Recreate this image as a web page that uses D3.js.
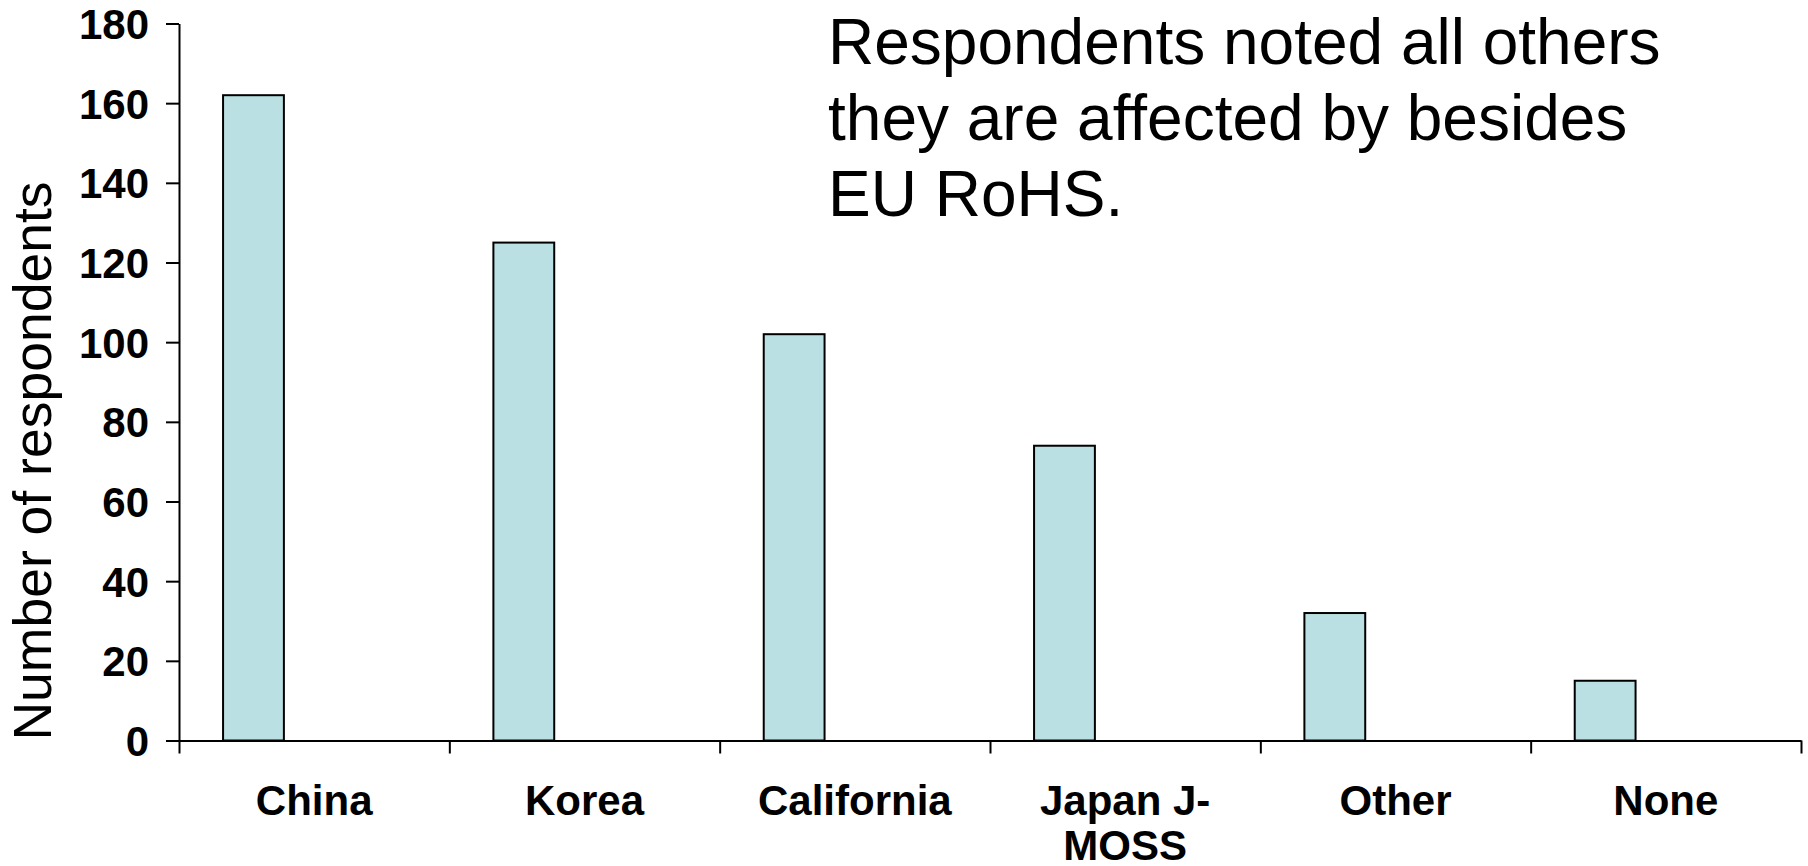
<!DOCTYPE html>
<html>
<head>
<meta charset="utf-8">
<script src="https://cdn.jsdelivr.net/npm/d3@7"></script>
<style>
  html, body { margin: 0; padding: 0; background: #fff; }
  svg { display: block; }
  text { font-family: "Liberation Sans", Arial, sans-serif; fill: #000; }
</style>
</head>
<body>
<script>
// Survey: other regulations respondents are affected by (besides EU RoHS)
const categories = ["China", "Korea", "California", "Japan J-MOSS", "Other", "None"];
const categoryLines = [["China"], ["Korea"], ["California"], ["Japan J-", "MOSS"], ["Other"], ["None"]];
const respondents = [162, 125, 102, 74, 32, 15];
const yTicks = [0, 20, 40, 60, 80, 100, 120, 140, 160, 180];
const noteLines = ["Respondents noted all others", "they are affected by besides", "EU RoHS."];

const W = 1808, H = 866;
const plot = { left: 179, right: 1801, top: 23.5, bottom: 740.5 };

const svg = d3.select("body").append("svg").attr("width", W).attr("height", H);

const x = d3.scaleBand().domain(categories).range([plot.left, plot.right]).padding(0);
const y = d3.scaleLinear().domain([0, 180]).range([plot.bottom, plot.top]);
const bw = x.bandwidth();

// Bars sit in the left part of each category slot
svg.append("g").selectAll("rect")
  .data(categories)
  .join("rect")
  .attr("x", (d) => x(d) + bw * 0.163)
  .attr("width", bw * 0.225)
  .attr("y", (d, i) => y(respondents[i]))
  .attr("height", (d, i) => y(0) - y(respondents[i]))
  .attr("fill", "#bae0e3")
  .attr("stroke", "#000")
  .attr("stroke-width", 2);

// Y axis
const yAxis = svg.append("g")
  .attr("transform", `translate(${plot.left},0)`)
  .call(d3.axisLeft(y).tickValues(yTicks).tickSize(13).tickPadding(17).tickSizeOuter(0));
yAxis.select(".domain").attr("stroke", "#000").attr("stroke-width", 2);
yAxis.selectAll(".tick line").attr("stroke", "#000").attr("stroke-width", 2);
yAxis.selectAll(".tick text")
  .attr("font-family", "'Liberation Sans', Arial, sans-serif")
  .attr("font-size", 42).attr("font-weight", "bold").attr("fill", "#000")
  .attr("dy", "0.36em");

// X axis: ticks on slot boundaries
const xBound = d3.scaleLinear().domain([0, categories.length]).range([plot.left, plot.right]);
const xAxis = svg.append("g")
  .attr("transform", `translate(0,${plot.bottom})`)
  .call(d3.axisBottom(xBound).tickValues(d3.range(categories.length + 1)).tickSize(13).tickFormat("").tickSizeOuter(0));
xAxis.select(".domain").attr("stroke", "#000").attr("stroke-width", 2);
xAxis.selectAll(".tick line").attr("stroke", "#000").attr("stroke-width", 2);

// Category labels
const lab = svg.append("g").selectAll("text")
  .data(categories)
  .join("text")
  .attr("x", (d) => x(d) + bw / 2)
  .attr("y", 815)
  .attr("text-anchor", "middle")
  .attr("font-size", 42)
  .attr("font-weight", "bold");
lab.each(function (d, i) {
  d3.select(this).selectAll("tspan")
    .data(categoryLines[i])
    .join("tspan")
    .attr("x", x(d) + bw / 2)
    .attr("dy", (t, j) => (j === 0 ? 0 : 45))
    .text((t) => t);
});

// Y axis title
svg.append("text")
  .attr("transform", `translate(51,461) rotate(-90)`)
  .attr("text-anchor", "middle")
  .attr("font-size", 53.5)
  .text("Number of respondents");

// Note
svg.append("text")
  .attr("x", 828)
  .attr("y", 64)
  .attr("font-size", 64)
  .selectAll("tspan")
  .data(noteLines)
  .join("tspan")
  .attr("x", 828)
  .attr("dy", (t, j) => (j === 0 ? 0 : 76))
  .text((t) => t);
</script>
</body>
</html>
